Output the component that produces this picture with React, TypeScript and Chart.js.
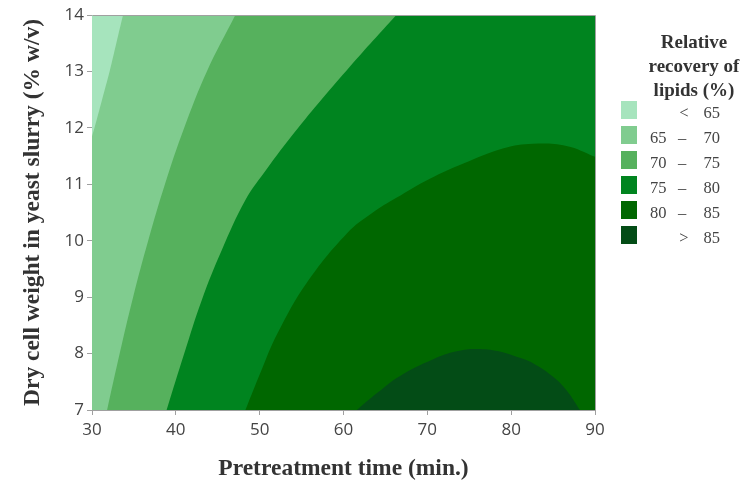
import React, { useEffect, useRef } from 'react';
import { Chart, registerables } from 'chart.js';

Chart.register(...registerables);

// Axis ranges and ticks
const xMin = 30;
const xMax = 90;
const yMin = 7;
const yMax = 14;
const xTickStep = 10;
const yTickStep = 1;

// Legend classes
const legendTitle = ['Relative', 'recovery of', 'lipids (%)'];
const classLow = ['<', '65', '70', '75', '80', '>'];
const classHigh = ['65', '70', '75', '80', '85', '85'];
const classColors = ['#a6e4bd', '#80cc8f', '#56b15d', '#00841f', '#006700', '#034c16'];

// Contour lines, [pretreatment time, dry cell weight]
const contour65: number[][] = [
  [30, 11.85], [30.3, 12], [31.2, 12.5], [32.1, 13], [32.9, 13.5], [33.7, 14],
];
const contour70: number[][] = [
  [31.8, 7], [33.3, 8], [34.9, 9], [36.7, 10], [38.7, 11], [41.0, 12], [43.7, 13], [47.1, 14],
];
const contour75: number[][] = [
  [38.9, 7], [41.0, 8], [43.1, 8.95], [45.5, 9.84], [48.3, 10.72], [50.5, 11.2], [54.6, 12.0], [60.8, 13.09], [66.3, 14],
];
const contour80: number[][] = [
  [48.3, 7], [50.2, 7.7], [52.1, 8.35], [55.6, 9.25], [60.4, 10.13], [63.5, 10.5], [66.3, 10.76], [70.3, 11.1],
  [74.3, 11.37], [79.1, 11.64], [82.6, 11.72], [86.6, 11.68], [90, 11.49],
];
const contour85: number[][] = [
  [61.6, 7], [64.0, 7.3], [66.7, 7.6], [70.7, 7.9], [73.5, 8.04], [75.9, 8.08], [78.5, 8.04], [80.3, 7.96],
  [82.6, 7.83], [85.0, 7.59], [86.6, 7.35], [88.2, 7],
];

// A region: the smooth contour, then straight edges along the plot frame.
// Repeating a point makes the spline run straight into and out of it.
const regionPts = (contour: number[][], corners: number[][]) => {
  const out: { x: number; y: number }[] = contour.map(([x, y]) => ({ x, y }));
  const last = contour[contour.length - 1];
  out.push({ x: last[0], y: last[1] });
  corners.forEach(([x, y]) => {
    out.push({ x, y });
    out.push({ x, y });
  });
  return out;
};

const frameBorder = {
  id: 'frameBorder',
  afterDraw(chart: any) {
    const { ctx, chartArea } = chart;
    ctx.save();
    ctx.strokeStyle = '#a0a0a0';
    ctx.lineWidth = 1;
    ctx.beginPath();
    ctx.moveTo(Math.round(chartArea.left) + 0.5, Math.round(chartArea.top) + 0.5);
    ctx.lineTo(Math.round(chartArea.right) + 0.5, Math.round(chartArea.top) + 0.5);
    ctx.lineTo(Math.round(chartArea.right) + 0.5, Math.round(chartArea.bottom) + 0.5);
    ctx.stroke();
    ctx.restore();
  },
};

export default function App() {
  const ref = useRef<HTMLCanvasElement | null>(null);

  useEffect(() => {
    if (!ref.current) return;
    // Regions from darkest (drawn on top) to lightest
    const regions = [
      { pts: regionPts(contour85, []), color: classColors[5] },
      { pts: regionPts(contour80, [[xMax, yMin]]), color: classColors[4] },
      { pts: regionPts(contour75, [[xMax, yMax], [xMax, yMin]]), color: classColors[3] },
      { pts: regionPts(contour70, [[xMax, yMax], [xMax, yMin]]), color: classColors[2] },
      { pts: regionPts(contour65, [[xMax, yMax], [xMax, yMin], [xMin, yMin]]), color: classColors[1] },
      { pts: regionPts([[xMin, yMin]], [[xMin, yMax], [xMax, yMax], [xMax, yMin]]), color: classColors[0] },
    ];
    const tickFont = { family: 'Open Sans', size: 17 };
    const titleFont = { family: 'Liberation Serif', size: 23.5, weight: 'bold' as const };
    const gray = '#a0a0a0';
    const chart = new Chart(ref.current, {
      type: 'scatter',
      data: {
        datasets: regions.map((r) => ({
          data: r.pts,
          showLine: true,
          fill: 'shape',
          backgroundColor: r.color,
          borderColor: r.color,
          borderWidth: 0,
          pointRadius: 0,
          pointHoverRadius: 0,
          tension: 0.4,
        })),
      },
      options: {
        animation: false,
        responsive: false,
        events: [],
        elements: { line: { capBezierPoints: false } },
        layout: { padding: { left: 0, right: 149, top: 15, bottom: 0 } },
        plugins: { legend: { display: false }, tooltip: { enabled: false } },
        scales: {
          x: {
            type: 'linear',
            min: xMin,
            max: xMax,
            afterFit: (s: any) => { s.height = 73; },
            ticks: { stepSize: xTickStep, font: tickFont, color: '#444', padding: 5, maxRotation: 0 },
            grid: { drawOnChartArea: false, tickLength: 5, color: gray },
            border: { color: gray },
            title: { display: true, text: 'Pretreatment time (min.)', font: titleFont, color: '#333', padding: { top: 0, bottom: 0 } },
          },
          y: {
            type: 'linear',
            min: yMin,
            max: yMax,
            afterFit: (s: any) => { s.width = 92; },
            ticks: { stepSize: yTickStep, font: tickFont, color: '#444', padding: 3 },
            grid: { drawOnChartArea: false, tickLength: 5, color: gray },
            border: { color: gray },
            title: { display: true, text: 'Dry cell weight in yeast slurry (% w/v)', font: titleFont, color: '#333', padding: { top: 19, bottom: 0 } },
          },
        },
      },
      plugins: [frameBorder],
    } as any);
    return () => chart.destroy();
  }, []);

  const serif = "'Liberation Serif', 'Times New Roman', serif";
  return (
    <div style={{ position: 'absolute', left: 0, top: 0, width: 744, height: 483, background: '#fff' }}>
      <canvas ref={ref} width={744} height={483} style={{ position: 'absolute', left: 0, top: 0 }} />
      <div style={{ position: 'absolute', left: 634, top: 30, width: 120, textAlign: 'center', fontFamily: serif, fontWeight: 'bold', fontSize: 19, lineHeight: '24px', color: '#333' }}>
        {legendTitle.map((t) => (<div key={t}>{t}</div>))}
      </div>
      {classColors.map((c, i) => {
        const top = 101 + i * 25;
        const edge = classLow[i] === '<' || classLow[i] === '>';
        return (
          <div key={c} style={{ position: 'absolute', left: 0, top, width: 744, height: 18, fontFamily: serif, fontSize: 16.5, lineHeight: '18px', color: '#444' }}>
            <div style={{ position: 'absolute', left: 621, top: 0, width: 16, height: 18, background: c }} />
            <div style={{ position: 'absolute', left: 0, top: 3, width: 744, height: 18 }}>
              {edge ? (
                <span style={{ position: 'absolute', left: 674, width: 20, textAlign: 'center' }}>{classLow[i]}</span>
              ) : (
                <>
                  <span style={{ position: 'absolute', left: 650 }}>{classLow[i]}</span>
                  <span style={{ position: 'absolute', left: 672, width: 20, textAlign: 'center' }}>–</span>
                </>
              )}
              <span style={{ position: 'absolute', left: 680, width: 40, textAlign: 'right' }}>{classHigh[i]}</span>
            </div>
          </div>
        );
      })}
    </div>
  );
}
